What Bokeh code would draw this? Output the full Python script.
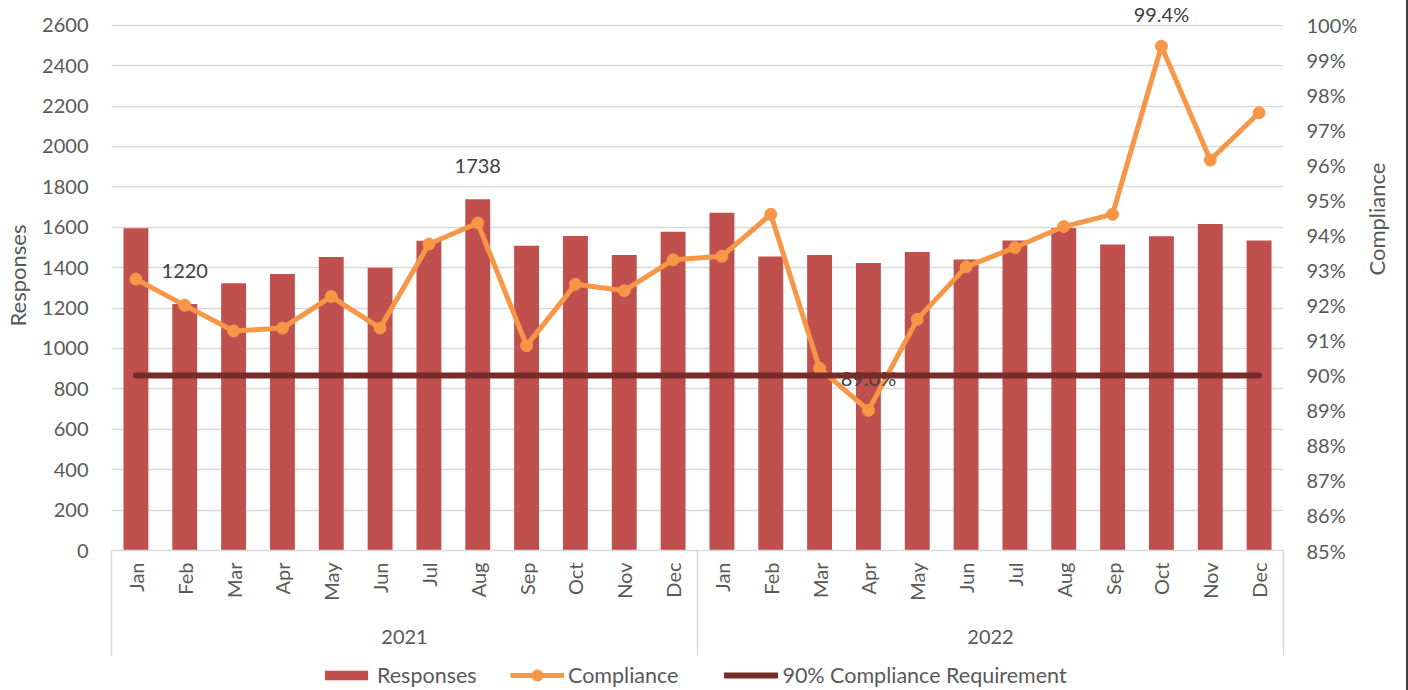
import math
from bokeh.plotting import figure
from bokeh.models import (Range1d, LinearAxis, FixedTicker, Legend, LegendItem,
                          Grid, PrintfTickFormatter, Div)
from bokeh.layouts import row, column
from bokeh.core.properties import value
from bokeh.embed import file_html
from bokeh.resources import INLINE

# ---------------- data ----------------
months = ["Jan", "Feb", "Mar", "Apr", "May", "Jun",
          "Jul", "Aug", "Sep", "Oct", "Nov", "Dec"]
years = ["2021", "2022"]

responses_2021 = [1595, 1220, 1323, 1369, 1453, 1399, 1533, 1738, 1508, 1556, 1463, 1578]
responses_2022 = [1672, 1455, 1463, 1423, 1478, 1440, 1534, 1596, 1515, 1555, 1616, 1534]

compliance_2021 = [92.75, 92.0, 91.27, 91.35, 92.25, 91.35, 93.75, 94.35, 90.85, 92.6, 92.42, 93.3]
compliance_2022 = [93.4, 94.6, 90.2, 89.0, 91.6, 93.1, 93.65, 94.25, 94.6, 99.4, 96.15, 97.5]

requirement = 90.0

left_ticks = [0, 200, 400, 600, 800, 1000, 1200, 1400, 1600, 1800, 2000, 2200, 2400, 2600]
right_ticks = [85, 86, 87, 88, 89, 90, 91, 92, 93, 94, 95, 96, 97, 98, 99, 100]

series_names = ["Responses", "Compliance", "90% Compliance Requirement"]

# labelled points (index in the 24-month sequence)
response_label_idx = [1, 7]
compliance_label_idx = [15, 21]

# ---------------- styles ----------------
FONT = "Lato"
GRAY = "#595959"
BAR_COLOR = "#C0504D"
LINE_COLOR = "#F79646"
REQ_COLOR = "#772C2A"

# ---------------- derived ----------------
responses = responses_2021 + responses_2022
compliance = compliance_2021 + compliance_2022
n = len(responses)
xc = [i + 0.5 for i in range(n)]
month_labels = {xc[i]: months[i % len(months)] for i in range(n)}
year_centers = [len(months) * k + len(months) / 2 for k in range(len(years))]
year_bounds = [len(months) * k for k in range(len(years) + 1)]

p = figure(frame_width=1172, frame_height=550,
           x_range=Range1d(0, n), y_range=Range1d(0, 2722.2),
           x_axis_type=None, y_axis_type=None,
           output_backend="svg", toolbar_location=None,
           min_border_left=111, min_border_right=118,
           min_border_top=0, min_border_bottom=110)
p.outline_line_color = None
p.extra_y_ranges = {"pct": Range1d(85, 100.705)}

# left axis
ly = LinearAxis(ticker=FixedTicker(ticks=left_ticks), axis_label=series_names[0])
p.add_layout(ly, "left")
# right axis
ry = LinearAxis(y_range_name="pct", ticker=FixedTicker(ticks=right_ticks),
                formatter=PrintfTickFormatter(format="%d%%"), axis_label=series_names[1])
p.add_layout(ry, "right")

for ax, st in ((ly, 8), (ry, 16)):
    ax.axis_line_color = None
    ax.major_tick_line_color = None
    ax.minor_tick_line_color = None
    ax.major_tick_out = 0
    ax.major_tick_in = 0
    ax.minor_tick_out = 0
    ax.minor_tick_in = 0
    ax.major_label_standoff = 23
    ax.major_label_text_font = FONT
    ax.major_label_text_font_size = "20px"
    ax.major_label_text_color = GRAY
    ax.axis_label_standoff = st
    ax.axis_label_text_font = FONT
    ax.axis_label_text_font_size = "22px"
    ax.axis_label_text_font_style = "normal"
    ax.axis_label_text_color = GRAY

if "axis_label_orientation" in ry.properties():
    ry.axis_label_orientation = math.pi / 2

p.add_layout(Grid(dimension=1, ticker=ly.ticker, grid_line_color="#D9D9D9",
                  grid_line_width=1.5))

# month axis (group separators drawn as long minor ticks)
SEP = 105
mx = LinearAxis(ticker=FixedTicker(ticks=xc, minor_ticks=year_bounds),
                major_label_overrides=month_labels,
                major_label_orientation=math.pi / 2)
mx.major_tick_out = 0
mx.major_tick_in = 0
mx.minor_tick_in = 0
mx.minor_tick_out = SEP
mx.minor_tick_line_color = "#D9D9D9"
mx.minor_tick_line_width = 1.5
mx.axis_line_color = "#D9D9D9"
mx.axis_line_width = 1.5
mx.major_label_standoff = 12 - SEP
mx.major_label_text_font = FONT
mx.major_label_text_font_size = "20px"
mx.major_label_text_color = GRAY
p.add_layout(mx, "below")

# year axis
yx = LinearAxis(ticker=FixedTicker(ticks=year_centers),
                major_label_overrides={year_centers[k]: years[k] for k in range(len(years))})
yx.axis_line_color = None
yx.major_tick_line_color = None
yx.minor_tick_line_color = None
yx.major_tick_out = 0
yx.major_tick_in = 0
yx.minor_tick_out = 0
yx.minor_tick_in = 0
yx.major_label_standoff = 26
yx.major_label_text_font = FONT
yx.major_label_text_font_size = "20px"
yx.major_label_text_color = GRAY
p.add_layout(yx, "below")

# ---------------- marks ----------------
bars = p.vbar(x=xc, top=responses, width=0.51, fill_color=BAR_COLOR, line_color=None)

cl = p.line(xc, compliance, y_range_name="pct", line_color=LINE_COLOR, line_width=5,
            line_join="round")
cs = p.scatter(xc, compliance, y_range_name="pct", size=12, fill_color=LINE_COLOR,
               line_color=LINE_COLOR)

p.text(x=[xc[i] for i in response_label_idx],
       y=[responses[i] for i in response_label_idx],
       text=[f"{responses[i]:.0f}" for i in response_label_idx],
       y_offset=-33, text_align="center", text_baseline="middle",
       text_font=value(FONT), text_font_size="20px", text_color="#404040")
p.text(x=[xc[i] for i in compliance_label_idx],
       y=[compliance[i] for i in compliance_label_idx],
       text=[f"{compliance[i]:.1f}%" for i in compliance_label_idx],
       y_range_name="pct",
       y_offset=-32, text_align="center", text_baseline="middle",
       text_font=value(FONT), text_font_size="20px", text_color="#404040")

req = p.line(xc, [requirement] * n, y_range_name="pct", line_color=REQ_COLOR,
             line_width=6, line_cap="round")

# ---------------- legend strip (own small figure) ----------------
# key glyphs carry a single placeholder point outside this strip's visible range
lf = figure(width=1395, height=30, x_range=Range1d(0, 1), y_range=Range1d(0, 1),
            x_axis_type=None, y_axis_type=None, output_backend="svg",
            toolbar_location=None, min_border_left=0, min_border_right=0,
            min_border_top=0, min_border_bottom=0)
lf.outline_line_color = None
lf.xgrid.visible = False
lf.ygrid.visible = False
off = [-10]
kb = lf.vbar(x=off, top=off, width=0.5, fill_color=BAR_COLOR, line_color=None)
kl = lf.line(off, off, line_color=LINE_COLOR, line_width=5)
ks = lf.scatter(off, off, size=12, fill_color=LINE_COLOR, line_color=LINE_COLOR)
kr = lf.line(off, off, line_color=REQ_COLOR, line_width=6, line_cap="round")


def style_legend(lg, glyph_h):
    lg.border_line_color = None
    lg.background_fill_alpha = 0
    lg.label_text_font = FONT
    lg.label_text_font_size = "21.5px"
    lg.label_text_color = GRAY
    lg.label_height = 14
    lg.glyph_width = 54
    lg.glyph_height = glyph_h
    lg.label_standoff = 4
    lg.padding = 0
    lg.margin = 0


# bar key (flat swatch)
leg_a = Legend(items=[LegendItem(label=series_names[0], renderers=[kb])],
               orientation="horizontal", location=(208, 2))
style_legend(leg_a, 12)
# line keys (taller key box so the marker shows at full size)
leg_b = Legend(items=[LegendItem(label=series_names[1], renderers=[kl, ks]),
                      LegendItem(label=series_names[2], renderers=[kr])],
               orientation="horizontal", location=(399, 1))
style_legend(leg_b, 28)
leg_b.spacing = 46
lf.add_layout(leg_a, "center")
lf.add_layout(leg_b, "center")

edge = Div(width=2, height=690, margin=0, styles={"background-color": "#404040"})
layout = row(column(p, lf), edge)

open("out.html", "w").write(file_html(layout, INLINE))
